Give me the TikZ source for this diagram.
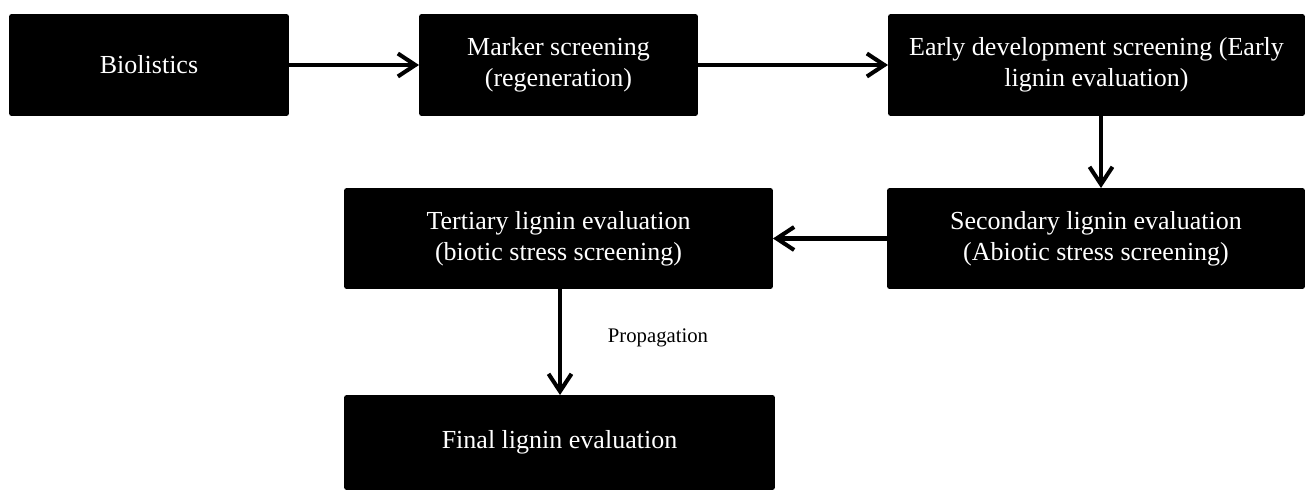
\documentclass[tikz,border=0pt]{standalone}
\usepackage{fontspec}
\setmainfont{Liberation Serif}
\usetikzlibrary{arrows.meta, positioning}
\tikzset{
  every picture/.style={line width=2.3pt},
  box/.style={draw=none, fill=black, text=white, rounded corners=1.5pt, align=center, inner sep=0pt, outer sep=0pt,
    font=\fontsize{14.8}{17.6}\selectfont},
  arrow/.style={-{Straight Barb[length=3.5mm, width=4.6mm]}, draw=black, line width=2.3pt},
  note/.style={font=\fontsize{11.8}{14}\selectfont, text=black},
}
\begin{document}
\begin{tikzpicture}[x=0.02cm, y=-0.02cm]
  \useasboundingbox (0,0) rectangle (1305,490);
  % first row
  \node[box, minimum width=5.6cm, minimum height=2.04cm] (bio) at (149,65) {Biolistics};
  \node[box, minimum width=5.58cm, minimum height=2.04cm] (marker) at (558.5,65) {Marker screening\\(regeneration)};
  \node[box, minimum width=8.34cm, minimum height=2.04cm] (early) at (1096.5,65) {Early development screening (Early\\lignin evaluation)};
  % second row
  \node[box, minimum width=8.36cm, minimum height=2.02cm] (second) at (1096,238.5) {Secondary lignin evaluation\\(Abiotic stress screening)};
  \node[box, minimum width=8.58cm, minimum height=2.02cm] (tert) at (558.5,238.5) {Tertiary lignin evaluation\\(biotic stress screening)};
  % last box
  \node[box, minimum width=8.62cm, minimum height=1.9cm] (final) at (559.5,442.5) {Final lignin evaluation};
  \node[note] (prop) at (658,338) {Propagation};
  \draw[arrow] (bio) -- (marker);
  \draw[arrow] (marker) -- (early);
  \draw[arrow] ([xshift=0.09cm]early.south) -- ([xshift=0.09cm]early.south |- second.north);
  \draw[arrow] (second) -- (tert);
  \draw[arrow] ([xshift=0.03cm]tert.south) -- ([xshift=0.03cm]tert.south |- final.north);
\end{tikzpicture}
\end{document}
